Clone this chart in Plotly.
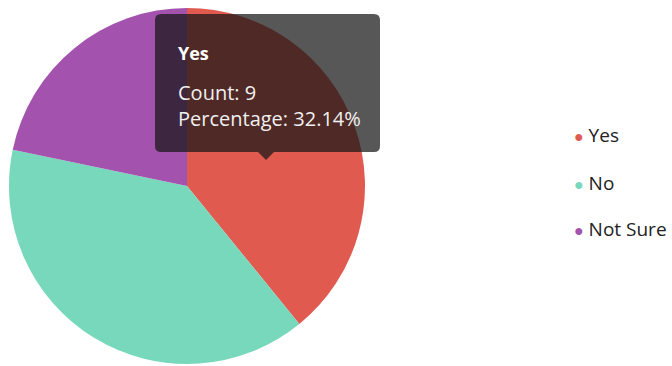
import plotly.graph_objects as go

# ---- data ----
categories = ["Yes", "No", "Not Sure"]
counts = [9, 9, 5]
colors = ["#e05a50", "#78d8bc", "#a352ae"]
tooltip_title = "Yes"
tooltip_lines = ["Count: 9", "Percentage: 32.14%"]

W, H = 672, 366
FONT = "Open Sans"

def px(x):
    return x / W

def py(y):
    return 1 - y / H

fig = go.Figure()
cx, cy, r = 187, 186, 178
fig.add_trace(go.Pie(
    labels=categories,
    values=counts,
    marker=dict(colors=colors, line=dict(width=0)),
    sort=False,
    direction="clockwise",
    rotation=0,
    textinfo="none",
    hoverinfo="none",
    showlegend=False,
    domain=dict(x=[px(cx - r), px(cx + r)], y=[py(cy + r), py(cy - r)]),
))

# tooltip box (rounded rect + arrow) in pixel coords -> paper
x0, x1, y0, y1, rad = 155, 380, 14, 152, 6
ax, aw, ah = 266, 8, 8
pts = [
    f"M {px(x0+rad)},{py(y0)}",
    f"L {px(x1-rad)},{py(y0)}",
    f"Q {px(x1)},{py(y0)} {px(x1)},{py(y0+rad)}",
    f"L {px(x1)},{py(y1-rad)}",
    f"Q {px(x1)},{py(y1)} {px(x1-rad)},{py(y1)}",
    f"L {px(ax+aw)},{py(y1)}",
    f"L {px(ax)},{py(y1+ah)}",
    f"L {px(ax-aw)},{py(y1)}",
    f"L {px(x0+rad)},{py(y1)}",
    f"Q {px(x0)},{py(y1)} {px(x0)},{py(y1-rad)}",
    f"L {px(x0)},{py(y0+rad)}",
    f"Q {px(x0)},{py(y0)} {px(x0+rad)},{py(y0)}",
    "Z",
]
fig.add_shape(type="path", xref="paper", yref="paper", path=" ".join(pts),
              fillcolor="rgba(22,22,22,0.72)", line=dict(width=0), layer="above")

fig.add_annotation(xref="paper", yref="paper", x=px(176), y=py(53),
                   xanchor="left", yanchor="middle", showarrow=False,
                   text=f"<b>{tooltip_title}</b>",
                   font=dict(family=FONT, size=18, color="white"))
for i, line in enumerate(tooltip_lines):
    fig.add_annotation(xref="paper", yref="paper", x=px(176), y=py(92 + 26 * i),
                       xanchor="left", yanchor="middle", showarrow=False,
                       text=line, font=dict(family=FONT, size=20, color="#f0f0f0"))

# legend with round dots
legend_y = [135, 183, 229]
for cat, col, ly in zip(categories, colors, legend_y):
    fig.add_annotation(xref="paper", yref="paper", x=px(572), y=py(ly),
                       xanchor="left", yanchor="middle", showarrow=False,
                       text=f'<span style="color:{col};font-size:16px">●</span> {cat}',
                       font=dict(family=FONT, size=19, color="#222222"))

fig.update_layout(
    width=W, height=H,
    margin=dict(l=0, r=0, t=0, b=0),
    paper_bgcolor="white",
    plot_bgcolor="white",
    font=dict(family=FONT),
)
fig.write_html("out.html")
